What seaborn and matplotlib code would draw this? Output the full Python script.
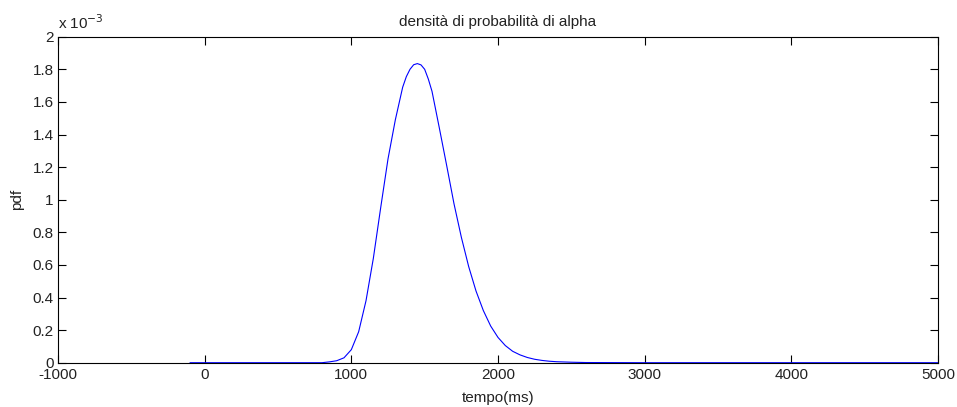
import numpy as np
import pandas as pd
import matplotlib
matplotlib.use('Agg')
import matplotlib.pyplot as plt
import seaborn as sns
from matplotlib.ticker import FuncFormatter

# values (time in ms, pdf in units of 1e-3)
tempo_ms = [-100, 400, 800, 850, 900, 950, 1000, 1050, 1100, 1150, 1200,
            1250, 1300, 1350, 1375, 1400, 1425, 1450, 1475, 1500, 1525,
            1550, 1600, 1650, 1700, 1750, 1800, 1850, 1900, 1950, 2000,
            2050, 2100, 2150, 2200, 2250, 2300, 2350, 2400, 2500, 2600,
            3000, 5000]
pdf_e3 = [0.0, 0.0, 0.0, 0.005, 0.012, 0.03, 0.08, 0.19, 0.38, 0.64, 0.95,
          1.25, 1.49, 1.69, 1.755, 1.80, 1.828, 1.835, 1.827, 1.80, 1.74,
          1.665, 1.44, 1.21, 0.975, 0.77, 0.59, 0.44, 0.32, 0.225, 0.155,
          0.105, 0.07, 0.048, 0.032, 0.021, 0.014, 0.009, 0.006, 0.003, 0.001,
          0.0, 0.0]

x_ticks = [-1000, 0, 1000, 2000, 3000, 4000, 5000]
y_ticks_e3 = [0, 0.2, 0.4, 0.6, 0.8, 1.0, 1.2, 1.4, 1.6, 1.8, 2.0]

df = pd.DataFrame({'tempo': tempo_ms, 'pdf': np.array(pdf_e3) * 1e-3})

sns.set_theme(style='white')
plt.rcParams['font.family'] = ['Liberation Sans', 'DejaVu Sans']
plt.rcParams['axes.unicode_minus'] = False
plt.rcParams['xtick.direction'] = 'in'
plt.rcParams['ytick.direction'] = 'in'

fig = plt.figure(figsize=(9.57, 4.07), dpi=100)
ax = fig.add_axes([58 / 957, 1 - 362.7 / 407, 880 / 957, 326 / 407])

sns.lineplot(data=df, x='tempo', y='pdf', color='blue', linewidth=0.8, ax=ax)

ax.set_xlim(-1000, 5000)
ax.set_ylim(0, 2e-3)
ax.set_xticks(x_ticks)
ax.set_yticks([v * 1e-3 for v in y_ticks_e3])
ax.yaxis.set_major_formatter(FuncFormatter(lambda v, p: f'{v * 1e3:g}'))
ax.tick_params(axis='both', which='major', direction='in', length=6, width=0.8,
               color='black', labelsize=11, labelcolor='#222222',
               top=True, right=True, bottom=True, left=True, pad=3)
ax.tick_params(axis='x', pad=4)

for s in ax.spines.values():
    s.set_color('black')
    s.set_linewidth(0.8)

ax.set_title('densità di probabilità di alpha', fontsize=11, color='#222222', pad=8)
ax.set_xlabel('tempo(ms)', fontsize=11, color='#222222', labelpad=6)
ax.set_ylabel('pdf', fontsize=11, color='#222222', labelpad=6)
ax.text(0.0, 1.015, r'x 10$^{-3}$', transform=ax.transAxes, fontsize=11,
        color='#222222', ha='left', va='bottom')

fig.savefig('out.png', dpi=100)
